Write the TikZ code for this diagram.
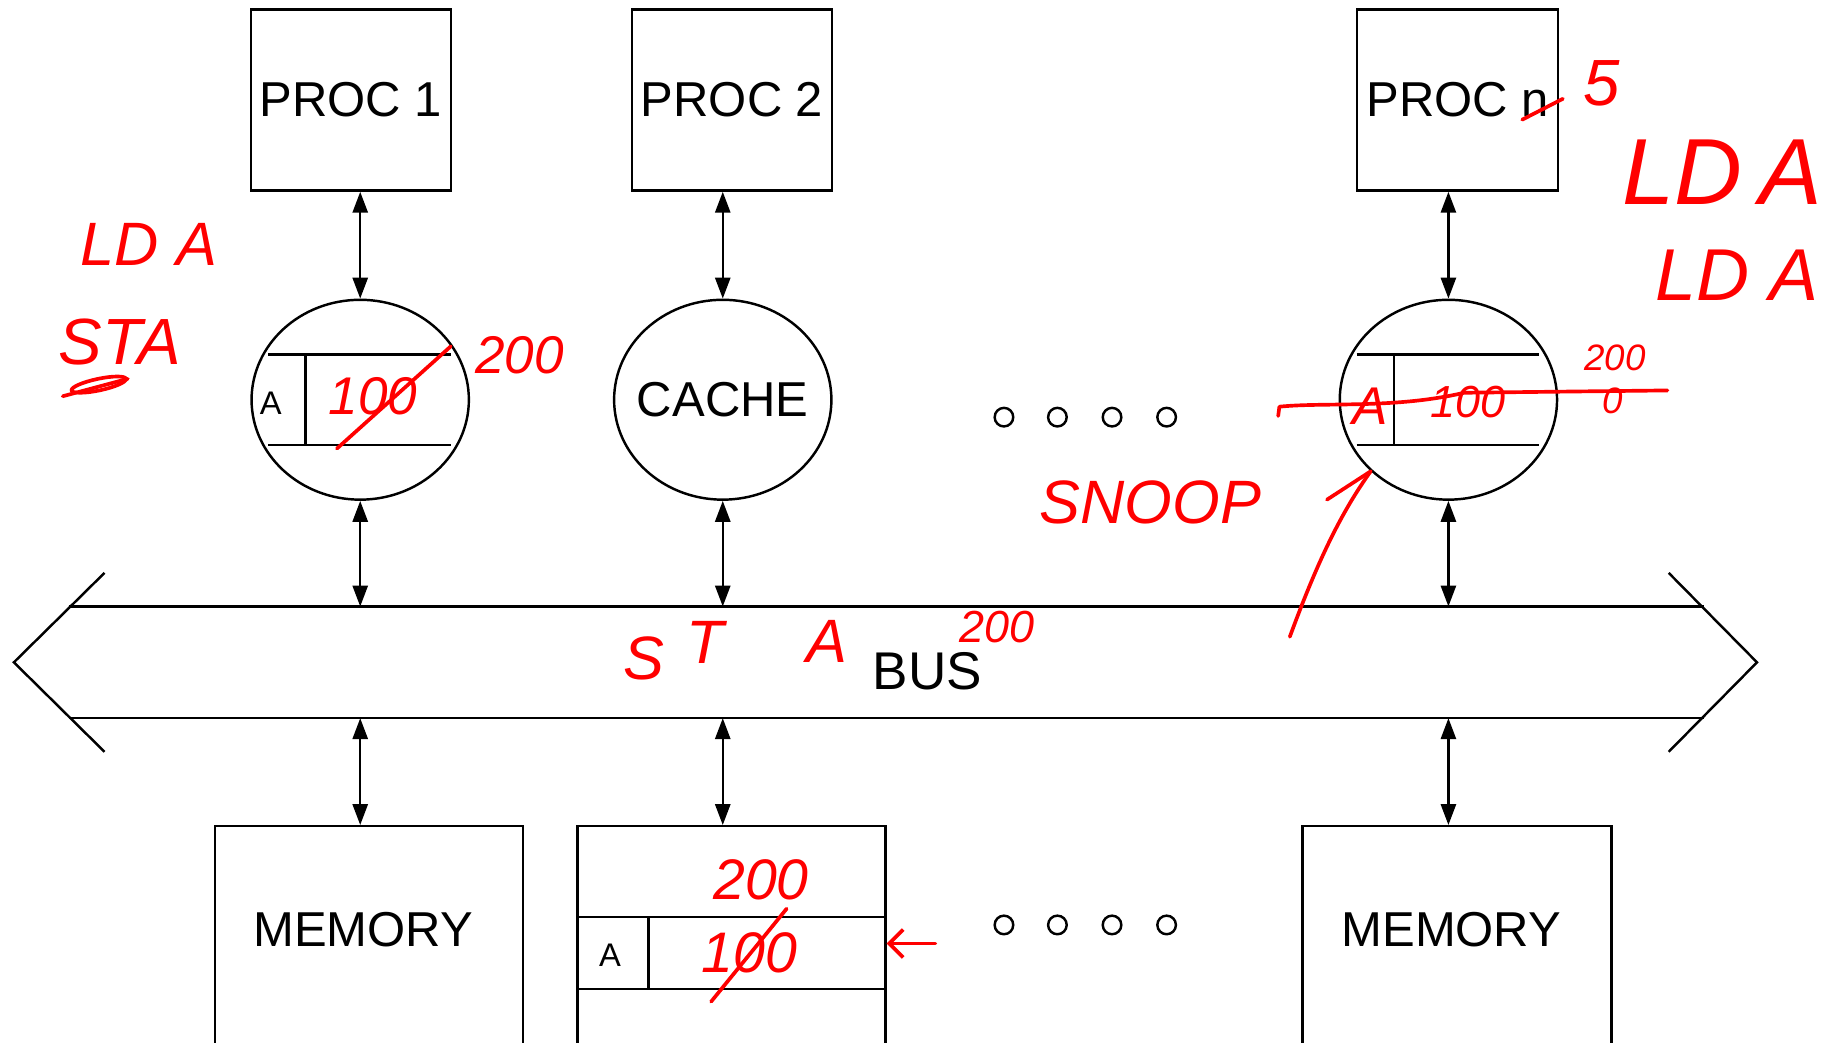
\documentclass[tikz,border=0pt]{standalone}
\usepackage{fontspec}
\setmainfont{Liberation Sans}
\usetikzlibrary{positioning,calc,shapes.geometric,arrows.meta}

\begin{document}
\begin{tikzpicture}[
    x=0.1mm, y=-0.1mm,
    line width=0.6pt,
    procbox/.style={rectangle, draw, minimum width=17.2mm, minimum height=15.6mm, inner sep=0pt, font=\fontsize{12}{14}\selectfont},
    cachenode/.style={ellipse, draw, minimum width=18.7mm, minimum height=17.2mm, inner sep=0pt, label={[font=\fontsize{12}{14}\selectfont]center:#1}},
    cachenode/.default={},
    membox/.style={rectangle, draw, minimum width=26.5mm, minimum height=25mm, anchor=north, inner sep=0pt},
    memlabel/.style={font=\fontsize{12}{14}\selectfont},
    dotnode/.style={circle, draw, minimum size=1.6mm, inner sep=0pt},
    tagnode/.style={font=\fontsize{8}{10}\selectfont, inner sep=0pt},
    link/.style={{Triangle[length=1.8mm,width=1.3mm]}-{Triangle[length=1.8mm,width=1.3mm]}},
    hand/.style={text=red, inner sep=0pt, font=\itshape\fontsize{#1}{#1}\selectfont},
    hand/.default=14,
    scrawl/.style={red, line width=0.9pt, line cap=round, line join=round} % hand-written strokes
]
\useasboundingbox (0,0) rectangle (1568,897);
\clip (0,0) rectangle (1568,897);

% --- Processors ---
\node[procbox] (p1) at (302,86) {PROC 1};
\node[procbox] (p2) at (630,86) {PROC 2};
\node[procbox, minimum width=17.3mm] (pn) at (1254.5,86) {PROC n};

% --- Caches ---
\node[cachenode] (c1) at (310,344) {};
\node[cachenode=CACHE] (c2) at (622,344) {};
\node[cachenode] (cn) at (1246.5,344) {};

% cache line (tag | data) inside the first and last cache
\foreach \cname in {c1,cn}{
  \draw ($(\cname)+(-79,-39)$) -- ($(\cname)+(78,-39)$);
  \draw ($(\cname)+(-79,39)$) -- ($(\cname)+(78,39)$);
  \draw ($(\cname)+(-47,-39)$) -- ($(\cname)+(-47,39)$);
}
\node[tagnode] (a1) at ($(c1)+(-77,3)$) {A};

% --- Dots between caches and between memories ---
\foreach \x [count=\i] in {864,910,957,1004}{
  \node[dotnode] (dt\i) at (\x,359) {};
  \node[dotnode] (db\i) at (\x,796) {};
}

% --- Bus (double-headed wide arrow) ---
\node[minimum width=140.5mm, minimum height=9.4mm, inner sep=0pt] (bus) at (762.5,570) {};
\draw (bus.north west) -- (bus.north east) (bus.south west) -- (bus.south east);
\draw ($(bus.west)+(31,-77)$) -- ($(bus.west)+(-47,0)$) -- ($(bus.west)+(31,77)$);
\draw ($(bus.east)+(-30,-77)$) -- ($(bus.east)+(46,0)$) -- ($(bus.east)+(-30,77)$);
\node[font=\fontsize{13}{15}\selectfont] (buslabel) at (798,578) {BUS};

% --- Memories ---
\node[membox] (m1) at (317.5,710) {};
\node[memlabel] at ($(m1.north)+(-5,90)$) {MEMORY};
\node[membox] (m2) at (629.5,710) {};
\node[membox, minimum width=26.6mm] (mn) at (1254,710) {};
\node[memlabel] at ($(mn.north)+(-5,90)$) {MEMORY};

% memory word holding A
\draw ($(m2.north west)+(0,79)$) -- ($(m2.north east)+(0,79)$);
\draw ($(m2.north west)+(0,141)$) -- ($(m2.north east)+(0,141)$);
\draw ($(m2.north west)+(62,79)$) -- ($(m2.north west)+(62,141)$);
\node[tagnode] (a2) at ($(m2.north west)+(29,112)$) {A};

% --- Links: proc <-> cache <-> bus <-> memory ---
\foreach \cname/\pname in {c1/p1,c2/p2,cn/pn}{
  \draw[link] (\cname.north |- \pname.south) -- (\cname.north);
  \draw[link] (\cname.south) -- (\cname.south |- bus.north);
}
\foreach \cname/\mname in {c1/m1,c2/m2,cn/mn}{
  \draw[link] (\cname |- bus.south) -- (\cname |- \mname.north);
}

% --- Hand-written notes ---
\node[hand=15] (n1) at (128,210) {LD\hspace{1.5mm}A};
\node[hand=16] (n2) at (103,294) {STA};
\draw[scrawl] (54,341) -- (110,326);
\draw[scrawl] (85,331) ellipse [x radius=2.4mm, y radius=0.5mm, rotate=12];
\node[hand=13] (n3) at (321,341) {100};
\draw[scrawl] (290,386) -- (388,298);
\node[hand=13] (n4) at (447,306) {200};

\node[hand=16] (n5) at (1378,72) {5};
\draw[scrawl] (1310,103) -- (1345,85);
\node[hand=23] (n6) at (1482,148) {LD\hspace{1.5mm}A};
\node[hand=18] (n7) at (1495,237) {LD A};
\node[hand=9] (n8) at (1390,308) {200};
\node[hand=13] (n9) at (1179,350) {A};
\node[hand=11] (n10) at (1263,346) {100};
\node[hand=9] (n11) at (1388,345) {0};
\draw[scrawl] (1100,358) -- (1101,350) .. controls (1140,346) and (1200,352) .. (1260,338) -- (1435,336);

\node[hand=15] (n12) at (990,432) {SNOOP};
\coordinate (snoopfoot) at (1110,548);
\draw[scrawl] (snoopfoot) .. controls (1135,480) and (1155,440) .. (cn.south west);
\draw[scrawl] (1142,430) -- (cn.south west);

\node[hand=15] (n13) at (554,567) {S};
\node[hand=15] (n14) at (607,553) {T};
\node[hand=15] (n15) at (712,552) {A};
\node[hand=11] (n16) at (858,540) {200};

\node[hand=14] (n17) at (655,757) {200};
\node[hand=14] (n18) at (645,820) {100};
\draw[scrawl] (612,862) -- (677,782);
\coordinate (memnote) at (805,812);
\draw[scrawl, -{Straight Barb[length=1.2mm]}] (memnote) -- (m2.east |- memnote);

\end{tikzpicture}
\end{document}
